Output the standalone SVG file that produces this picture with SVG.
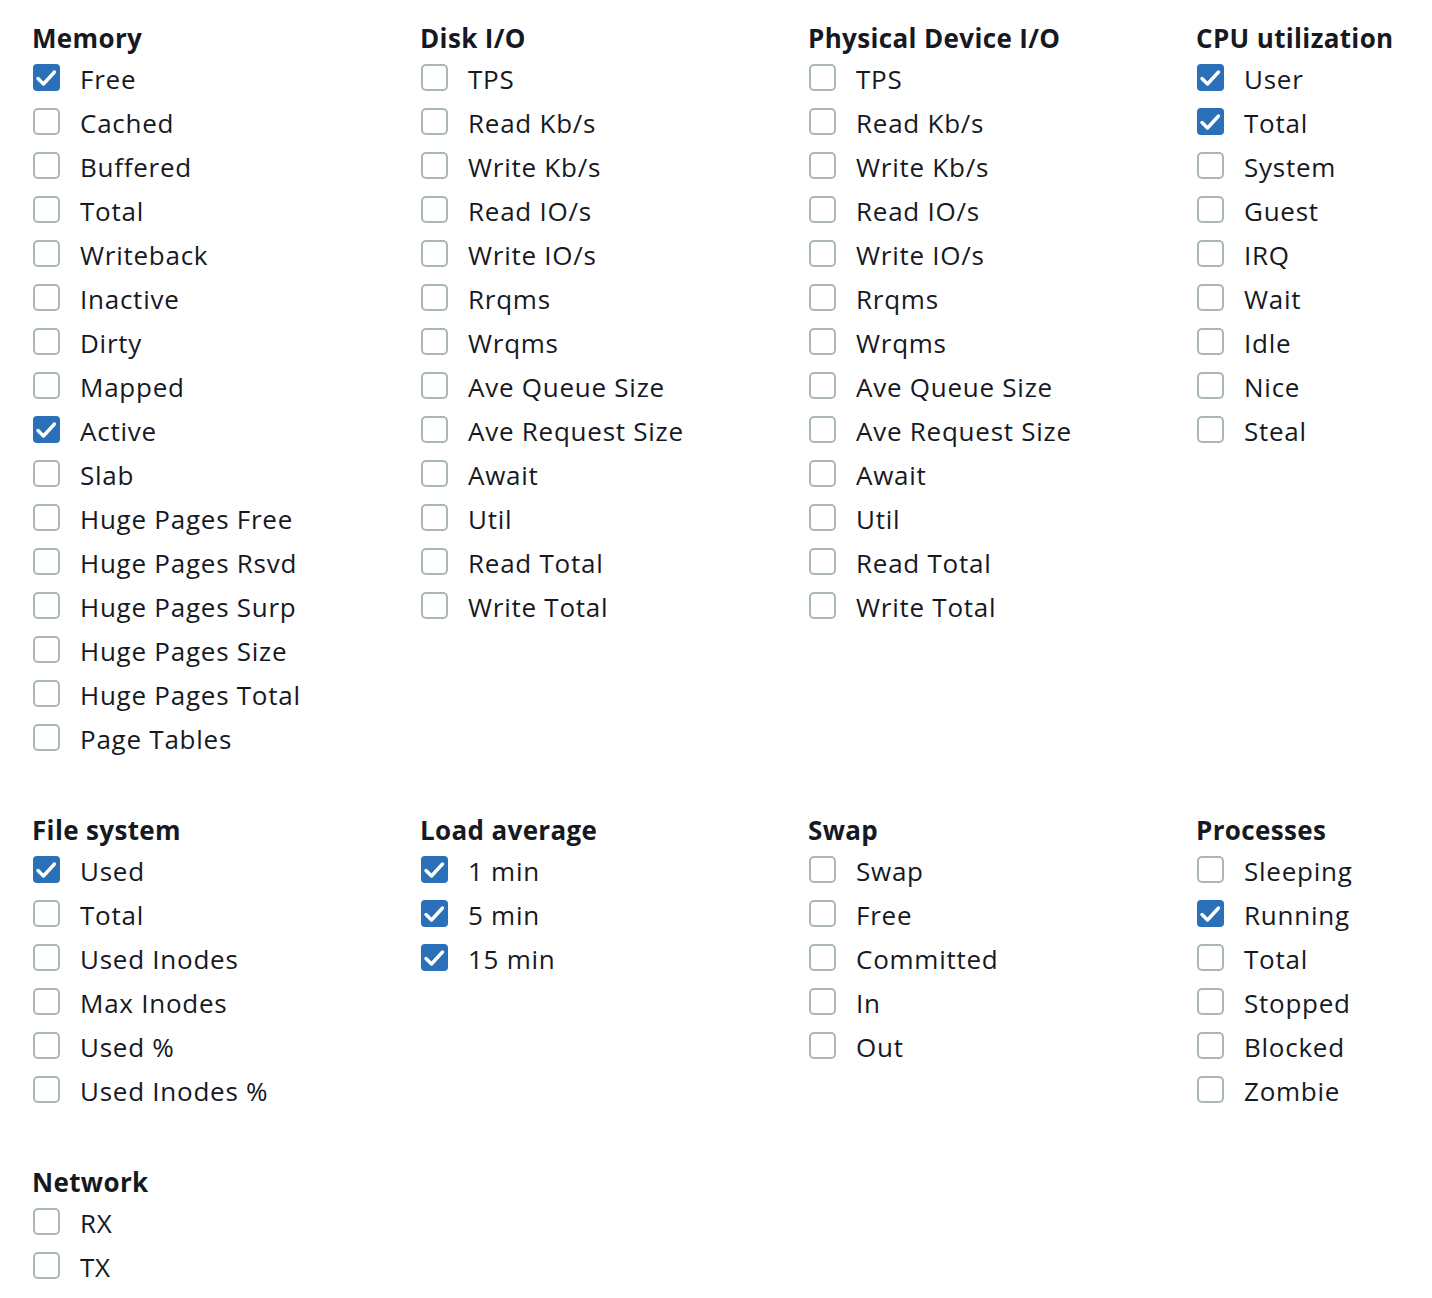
<svg xmlns="http://www.w3.org/2000/svg" xmlns:xlink="http://www.w3.org/1999/xlink" width="1432" height="1298" viewBox="0 0 1432 1298">
<style>
.h{font-family:"Open Sans","Noto Sans","Liberation Sans",sans-serif;font-weight:700;font-size:26px;letter-spacing:0.35px;fill:#16191f}
.t{font-family:"Open Sans","Noto Sans","Liberation Sans",sans-serif;font-size:26px;letter-spacing:0.75px;fill:#16191f}
</style>
<defs>
<g id="off"><rect x="1" y="1" width="25" height="25" rx="4" fill="#fff" stroke="#aab7b8" stroke-width="2"/></g>
<g id="on"><rect x="0" y="0" width="27" height="27" rx="4" fill="#2a70b8"/><path d="M5 14.5 L10.5 20 L21.5 8" fill="none" stroke="#fff" stroke-width="3.4" stroke-linecap="round" stroke-linejoin="round"/></g>
</defs>
<rect width="1432" height="1298" fill="#fff"/>
<g id="connectors"/>
<g id="memory">
<text class="h" x="32" y="48">Memory</text>
<g id="mem-free"><use href="#on" x="33" y="64"/><text class="t" x="80" y="89">Free</text></g>
<g id="mem-cached"><use href="#off" x="33" y="108"/><text class="t" x="80" y="133">Cached</text></g>
<g id="mem-buffered"><use href="#off" x="33" y="152"/><text class="t" x="80" y="177">Buffered</text></g>
<g id="mem-total"><use href="#off" x="33" y="196"/><text class="t" x="80" y="221">Total</text></g>
<g id="mem-writeback"><use href="#off" x="33" y="240"/><text class="t" x="80" y="265">Writeback</text></g>
<g id="mem-inactive"><use href="#off" x="33" y="284"/><text class="t" x="80" y="309">Inactive</text></g>
<g id="mem-dirty"><use href="#off" x="33" y="328"/><text class="t" x="80" y="353">Dirty</text></g>
<g id="mem-mapped"><use href="#off" x="33" y="372"/><text class="t" x="80" y="397">Mapped</text></g>
<g id="mem-active"><use href="#on" x="33" y="416"/><text class="t" x="80" y="441">Active</text></g>
<g id="mem-slab"><use href="#off" x="33" y="460"/><text class="t" x="80" y="485">Slab</text></g>
<g id="mem-hpfree"><use href="#off" x="33" y="504"/><text class="t" x="80" y="529">Huge Pages Free</text></g>
<g id="mem-hprsvd"><use href="#off" x="33" y="548"/><text class="t" x="80" y="573">Huge Pages Rsvd</text></g>
<g id="mem-hpsurp"><use href="#off" x="33" y="592"/><text class="t" x="80" y="617">Huge Pages Surp</text></g>
<g id="mem-hpsize"><use href="#off" x="33" y="636"/><text class="t" x="80" y="661">Huge Pages Size</text></g>
<g id="mem-hptotal"><use href="#off" x="33" y="680"/><text class="t" x="80" y="705">Huge Pages Total</text></g>
<g id="mem-pagetables"><use href="#off" x="33" y="724"/><text class="t" x="80" y="749">Page Tables</text></g>
</g>
<g id="diskio">
<text class="h" x="420" y="48">Disk I/O</text>
<g id="disk-tps"><use href="#off" x="421" y="64"/><text class="t" x="468" y="89">TPS</text></g>
<g id="disk-readkb"><use href="#off" x="421" y="108"/><text class="t" x="468" y="133">Read Kb/s</text></g>
<g id="disk-writekb"><use href="#off" x="421" y="152"/><text class="t" x="468" y="177">Write Kb/s</text></g>
<g id="disk-readio"><use href="#off" x="421" y="196"/><text class="t" x="468" y="221">Read IO/s</text></g>
<g id="disk-writeio"><use href="#off" x="421" y="240"/><text class="t" x="468" y="265">Write IO/s</text></g>
<g id="disk-rrqms"><use href="#off" x="421" y="284"/><text class="t" x="468" y="309">Rrqms</text></g>
<g id="disk-wrqms"><use href="#off" x="421" y="328"/><text class="t" x="468" y="353">Wrqms</text></g>
<g id="disk-avequeue"><use href="#off" x="421" y="372"/><text class="t" x="468" y="397">Ave Queue Size</text></g>
<g id="disk-avereq"><use href="#off" x="421" y="416"/><text class="t" x="468" y="441">Ave Request Size</text></g>
<g id="disk-await"><use href="#off" x="421" y="460"/><text class="t" x="468" y="485">Await</text></g>
<g id="disk-util"><use href="#off" x="421" y="504"/><text class="t" x="468" y="529">Util</text></g>
<g id="disk-readtotal"><use href="#off" x="421" y="548"/><text class="t" x="468" y="573">Read Total</text></g>
<g id="disk-writetotal"><use href="#off" x="421" y="592"/><text class="t" x="468" y="617">Write Total</text></g>
</g>
<g id="physio">
<text class="h" x="808" y="48">Physical Device I/O</text>
<g id="phys-tps"><use href="#off" x="809" y="64"/><text class="t" x="856" y="89">TPS</text></g>
<g id="phys-readkb"><use href="#off" x="809" y="108"/><text class="t" x="856" y="133">Read Kb/s</text></g>
<g id="phys-writekb"><use href="#off" x="809" y="152"/><text class="t" x="856" y="177">Write Kb/s</text></g>
<g id="phys-readio"><use href="#off" x="809" y="196"/><text class="t" x="856" y="221">Read IO/s</text></g>
<g id="phys-writeio"><use href="#off" x="809" y="240"/><text class="t" x="856" y="265">Write IO/s</text></g>
<g id="phys-rrqms"><use href="#off" x="809" y="284"/><text class="t" x="856" y="309">Rrqms</text></g>
<g id="phys-wrqms"><use href="#off" x="809" y="328"/><text class="t" x="856" y="353">Wrqms</text></g>
<g id="phys-avequeue"><use href="#off" x="809" y="372"/><text class="t" x="856" y="397">Ave Queue Size</text></g>
<g id="phys-avereq"><use href="#off" x="809" y="416"/><text class="t" x="856" y="441">Ave Request Size</text></g>
<g id="phys-await"><use href="#off" x="809" y="460"/><text class="t" x="856" y="485">Await</text></g>
<g id="phys-util"><use href="#off" x="809" y="504"/><text class="t" x="856" y="529">Util</text></g>
<g id="phys-readtotal"><use href="#off" x="809" y="548"/><text class="t" x="856" y="573">Read Total</text></g>
<g id="phys-writetotal"><use href="#off" x="809" y="592"/><text class="t" x="856" y="617">Write Total</text></g>
</g>
<g id="cpu">
<text class="h" x="1196" y="48">CPU utilization</text>
<g id="cpu-user"><use href="#on" x="1197" y="64"/><text class="t" x="1244" y="89">User</text></g>
<g id="cpu-total"><use href="#on" x="1197" y="108"/><text class="t" x="1244" y="133">Total</text></g>
<g id="cpu-system"><use href="#off" x="1197" y="152"/><text class="t" x="1244" y="177">System</text></g>
<g id="cpu-guest"><use href="#off" x="1197" y="196"/><text class="t" x="1244" y="221">Guest</text></g>
<g id="cpu-irq"><use href="#off" x="1197" y="240"/><text class="t" x="1244" y="265">IRQ</text></g>
<g id="cpu-wait"><use href="#off" x="1197" y="284"/><text class="t" x="1244" y="309">Wait</text></g>
<g id="cpu-idle"><use href="#off" x="1197" y="328"/><text class="t" x="1244" y="353">Idle</text></g>
<g id="cpu-nice"><use href="#off" x="1197" y="372"/><text class="t" x="1244" y="397">Nice</text></g>
<g id="cpu-steal"><use href="#off" x="1197" y="416"/><text class="t" x="1244" y="441">Steal</text></g>
</g>
<g id="filesystem">
<text class="h" x="32" y="840">File system</text>
<g id="fs-used"><use href="#on" x="33" y="856"/><text class="t" x="80" y="881">Used</text></g>
<g id="fs-total"><use href="#off" x="33" y="900"/><text class="t" x="80" y="925">Total</text></g>
<g id="fs-usedinodes"><use href="#off" x="33" y="944"/><text class="t" x="80" y="969">Used Inodes</text></g>
<g id="fs-maxinodes"><use href="#off" x="33" y="988"/><text class="t" x="80" y="1013">Max Inodes</text></g>
<g id="fs-usedpct"><use href="#off" x="33" y="1032"/><text class="t" x="80" y="1057">Used %</text></g>
<g id="fs-usedinodespct"><use href="#off" x="33" y="1076"/><text class="t" x="80" y="1101">Used Inodes %</text></g>
</g>
<g id="loadavg">
<text class="h" x="420" y="840">Load average</text>
<g id="load-1"><use href="#on" x="421" y="856"/><text class="t" x="468" y="881">1 min</text></g>
<g id="load-5"><use href="#on" x="421" y="900"/><text class="t" x="468" y="925">5 min</text></g>
<g id="load-15"><use href="#on" x="421" y="944"/><text class="t" x="468" y="969">15 min</text></g>
</g>
<g id="swap">
<text class="h" x="808" y="840">Swap</text>
<g id="swap-swap"><use href="#off" x="809" y="856"/><text class="t" x="856" y="881">Swap</text></g>
<g id="swap-free"><use href="#off" x="809" y="900"/><text class="t" x="856" y="925">Free</text></g>
<g id="swap-committed"><use href="#off" x="809" y="944"/><text class="t" x="856" y="969">Committed</text></g>
<g id="swap-in"><use href="#off" x="809" y="988"/><text class="t" x="856" y="1013">In</text></g>
<g id="swap-out"><use href="#off" x="809" y="1032"/><text class="t" x="856" y="1057">Out</text></g>
</g>
<g id="processes">
<text class="h" x="1196" y="840">Processes</text>
<g id="proc-sleeping"><use href="#off" x="1197" y="856"/><text class="t" x="1244" y="881">Sleeping</text></g>
<g id="proc-running"><use href="#on" x="1197" y="900"/><text class="t" x="1244" y="925">Running</text></g>
<g id="proc-total"><use href="#off" x="1197" y="944"/><text class="t" x="1244" y="969">Total</text></g>
<g id="proc-stopped"><use href="#off" x="1197" y="988"/><text class="t" x="1244" y="1013">Stopped</text></g>
<g id="proc-blocked"><use href="#off" x="1197" y="1032"/><text class="t" x="1244" y="1057">Blocked</text></g>
<g id="proc-zombie"><use href="#off" x="1197" y="1076"/><text class="t" x="1244" y="1101">Zombie</text></g>
</g>
<g id="network">
<text class="h" x="32" y="1192">Network</text>
<g id="net-rx"><use href="#off" x="33" y="1208"/><text class="t" x="80" y="1233">RX</text></g>
<g id="net-tx"><use href="#off" x="33" y="1252"/><text class="t" x="80" y="1277">TX</text></g>
</g>
</svg>
